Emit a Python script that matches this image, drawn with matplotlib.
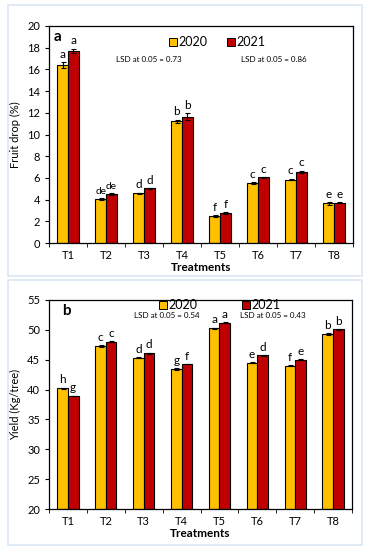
import numpy as np
import matplotlib.pyplot as plt
from matplotlib.patches import Rectangle

plt.rcParams['font.family'] = ['Lato', 'DejaVu Sans']

treatments = ['T1', 'T2', 'T3', 'T4', 'T5', 'T6', 'T7', 'T8']

# panel a: fruit drop (%)
drop_2020 = [16.4, 4.05, 4.6, 11.2, 2.5, 5.5, 5.85, 3.65]
drop_2021 = [17.7, 4.5, 5.05, 11.65, 2.75, 6.05, 6.55, 3.7]
drop_err_2020 = [0.25, 0.12, 0.05, 0.18, 0.1, 0.08, 0.08, 0.12]
drop_err_2021 = [0.22, 0.08, 0.04, 0.35, 0.08, 0.06, 0.12, 0.05]
drop_let_2020 = ['a', 'de', 'd', 'b', 'f', 'c', 'c', 'e']
drop_let_2021 = ['a', 'de', 'd', 'b', 'f', 'c', 'c', 'e']

# panel b: yield (kg/tree)
yield_2020 = [40.2, 47.3, 45.35, 43.45, 50.25, 44.5, 44.0, 49.25]
yield_2021 = [38.95, 48.0, 46.05, 44.25, 51.2, 45.75, 45.0, 50.1]
yield_err_2020 = [0.1, 0.1, 0.1, 0.1, 0.1, 0.05, 0.05, 0.15]
yield_err_2021 = [0.05, 0.1, 0.1, 0.05, 0.1, 0.05, 0.1, 0.05]
yield_let_2020 = ['h', 'c', 'd', 'g', 'a', 'e', 'f', 'b']
yield_let_2021 = ['g', 'c', 'd', 'f', 'a', 'd', 'e', 'b']

W, H = 368, 550
fig = plt.figure(figsize=(W / 100, H / 100), dpi=100)

def px(l, t, r, b):
    return [l / W, 1 - b / H, (r - l) / W, (b - t) / H]

# light blue frames around each panel
for (l, t, r, b) in [(8, 5, 362, 276), (8, 280, 362, 545)]:
    fig.add_artist(Rectangle((l / W, 1 - b / H), (r - l) / W, (b - t) / H,
                             transform=fig.transFigure, fill=False,
                             edgecolor='#dbe7f4', linewidth=1.2))

yellow = '#FFC000'
red = '#C00000'
w = 0.28

def panel(rect, v1, v2, e1, e2, l1, l2, ylim, ystep, ylabel, tag, tag_xy,
          leg_x, leg_y, lsd, lsd_y, lsd_x, loff):
    ax = fig.add_axes(px(*rect))
    x = np.arange(len(treatments))
    ax.bar(x - w / 2, np.array(v1) - ylim[0], w, bottom=ylim[0], color=yellow,
           edgecolor='black', linewidth=0.8, zorder=2)
    ax.bar(x + w / 2, np.array(v2) - ylim[0], w, bottom=ylim[0], color=red,
           edgecolor='black', linewidth=0.8, zorder=2)
    ax.errorbar(x - w / 2, v1, yerr=e1, fmt='none', ecolor='black',
                elinewidth=0.8, capsize=1.8, capthick=0.8, zorder=3)
    ax.errorbar(x + w / 2, v2, yerr=e2, fmt='none', ecolor='black',
                elinewidth=0.8, capsize=1.8, capthick=0.8, zorder=3)
    for i in range(len(x)):
        for xx, v, e, lab in [(x[i] - w / 2, v1[i], e1[i], l1[i]),
                              (x[i] + w / 2, v2[i], e2[i], l2[i])]:
            ax.text(xx, v + e + loff, lab, ha='center', va='bottom',
                    fontsize=8.5 if len(lab) == 1 else 7.3)
    ax.set_xlim(-0.5, len(x) - 0.5)
    ax.set_ylim(*ylim)
    ax.set_yticks(np.arange(ylim[0], ylim[1] + 0.1, ystep))
    ax.set_xticks(x)
    ax.set_xticklabels(treatments, fontsize=8)
    ax.set_xticks(np.arange(-0.5, len(x)), minor=True)
    ax.tick_params(axis='x', which='major', length=0, pad=5)
    ax.tick_params(axis='x', which='minor', length=3, direction='out')
    ax.tick_params(axis='y', labelsize=8, length=3)
    for s in ax.spines.values():
        s.set_linewidth(0.9)
    ax.set_xlabel('Treatments', fontsize=8.5, fontweight='bold', labelpad=1)
    ax.set_ylabel(ylabel, fontsize=8, labelpad=4)
    fig.text(tag_xy[0] / W, 1 - tag_xy[1] / H, tag, fontsize=11,
             fontweight='bold', va='center', ha='center')
    # legend drawn as text with square markers
    for lx, lab, col in zip(leg_x, ['2020', '2021'], [yellow, red]):
        fig.add_artist(Rectangle(((lx - 4) / W, 1 - (leg_y + 4) / H),
                                 8 / W, 8 / H, transform=fig.transFigure,
                                 facecolor=col, edgecolor='black',
                                 linewidth=0.7))
        fig.text((lx + 5.5) / W, 1 - leg_y / H, lab, fontsize=9,
                 va='center', ha='left')
    for lx, s in zip(lsd_x, lsd):
        fig.text(lx / W, 1 - lsd_y / H, 'LSD at 0.05 = ' + s, fontsize=5.8,
                 ha='center', va='center')
    return ax

panel((49, 26, 353, 243), drop_2020, drop_2021, drop_err_2020, drop_err_2021,
      drop_let_2020, drop_let_2021, (0, 20), 2, 'Fruit drop (%)', 'a',
      (58, 37), [173, 231], 42, ['0.73', '0.86'], 59, [149, 274], 0.2)

panel((49, 300, 352, 509), yield_2020, yield_2021, yield_err_2020,
      yield_err_2021, yield_let_2020, yield_let_2021, (20, 55), 5,
      'Yield (Kg/tree)', 'b', (66, 311), [163, 246], 305, ['0.54', '0.43'],
      316, [167, 273], 0.4)

fig.savefig('out.png', dpi=100)
